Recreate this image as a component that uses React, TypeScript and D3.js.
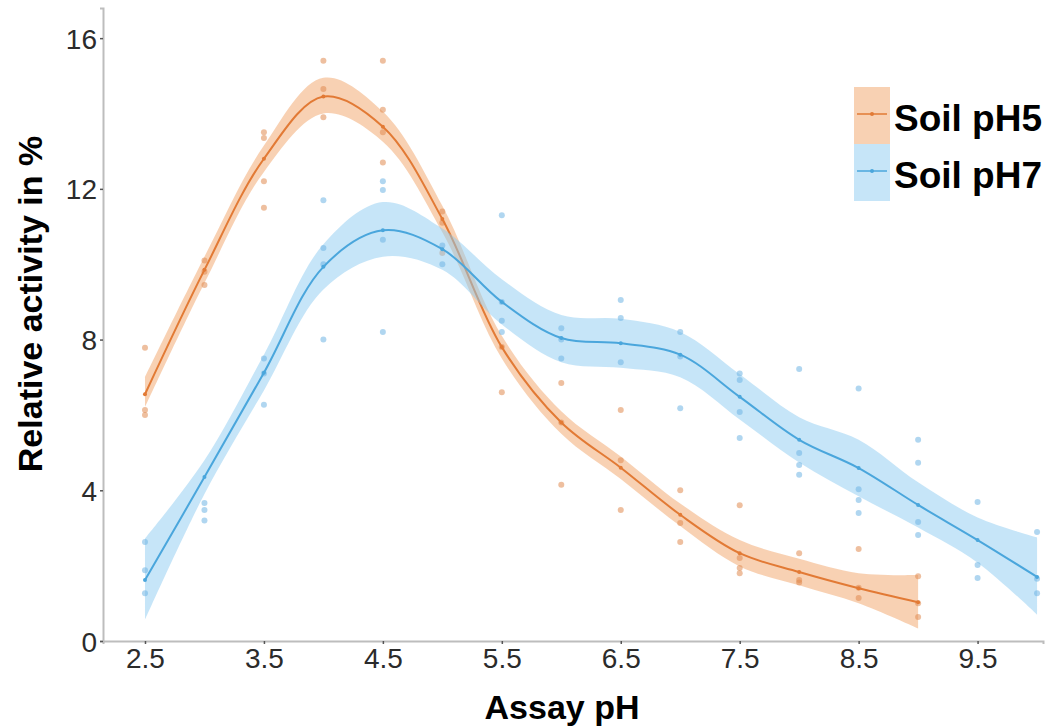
import { useEffect, useRef } from 'react'
import * as d3 from 'd3'

// assay pH levels for each soil
const ph5Levels = [2.5, 3, 3.5, 4, 4.5, 5, 5.5, 6, 6.5, 7, 7.5, 8, 8.5, 9]
const ph7Levels = [2.5, 3, 3.5, 4, 4.5, 5, 5.5, 6, 6.5, 7, 7.5, 8, 8.5, 9, 9.5, 10]

// loess fit + confidence band
const ph5Fit = [6.55, 9.85, 12.8, 14.45, 13.65, 11.2, 7.8, 5.8, 4.6, 3.35, 2.33, 1.83, 1.4, 1.03]
const ph5Lower = [6.2, 9.5, 12.45, 14.0, 13.25, 10.85, 7.5, 5.5, 4.3, 3.05, 1.98, 1.48, 1.0, 0.33]
const ph5Upper = [7.0, 10.2, 13.15, 14.95, 14.05, 11.55, 8.1, 6.1, 4.9, 3.65, 2.68, 2.18, 1.8, 1.75]

const ph7Fit = [1.62, 4.35, 7.12, 9.93, 10.9, 10.4, 9.0, 8.04, 7.9, 7.6, 6.48, 5.34, 4.59, 3.61, 2.68, 1.7]
const ph7Lower = [0.56, 3.9, 6.65, 9.33, 10.2, 9.85, 8.4, 7.4, 7.25, 7.0, 5.88, 4.74, 3.84, 3.01, 2.08, 0.7]
const ph7Upper = [2.72, 4.8, 7.6, 10.53, 11.65, 10.95, 9.6, 8.65, 8.55, 8.2, 7.08, 5.94, 5.34, 4.21, 3.28, 2.75]

// raw replicate measurements at each assay pH
const ph5Obs = [
  [7.78, 6.13, 6.0], [10.1, 9.8, 9.45], [13.5, 13.35, 12.2, 11.5], [15.4, 14.65, 13.9],
  [15.4, 14.1, 13.5, 12.7], [11.4, 11.1, 10.3], [7.8, 6.6], [6.85, 5.8, 4.15],
  [6.13, 4.8, 3.48], [4.0, 3.13, 2.63], [3.6, 2.2, 1.94, 1.8], [2.33, 1.62, 1.55],
  [2.44, 1.41, 1.14], [1.72, 1.0, 0.64],
]
const ph7Obs = [
  [2.63, 1.88, 1.27], [3.66, 3.48, 3.2], [7.5, 7.1, 6.27], [11.7, 10.43, 10.0, 8.0],
  [12.2, 11.97, 10.65, 8.2], [10.5, 10.0], [11.3, 9.0, 8.5, 8.2], [8.3, 8.0, 7.5],
  [9.05, 8.57, 7.4], [8.2, 7.55, 6.18], [7.1, 6.93, 6.08, 5.39], [7.22, 4.99, 4.67, 4.41],
  [6.7, 4.03, 3.74, 3.4], [5.34, 4.73, 3.16, 2.81], [3.69, 2.02, 1.67], [2.89, 1.65, 1.27],
]

const xTicks = [2.5, 3.5, 4.5, 5.5, 6.5, 7.5, 8.5, 9.5]
const yTicks = [0, 4, 8, 12, 16]
const seriesNames = ['Soil pH5', 'Soil pH7']

const W = 1052
const H = 728

export default function App() {
  const svgRef = useRef<SVGSVGElement>(null)

  useEffect(() => {
    const svg = d3.select(svgRef.current)
    svg.selectAll('*').remove()

    const x = d3.scaleLinear().domain([2.147, 10.05]).range([103, 1043])
    const y = d3.scaleLinear().domain([0, 16.8]).range([641, 8])

    const series = [
      { levels: ph5Levels, fit: ph5Fit, lo: ph5Lower, hi: ph5Upper, obs: ph5Obs,
        line: '#e27a35', band: '#f2a468', dot: '#e08a50' },
      { levels: ph7Levels, fit: ph7Fit, lo: ph7Lower, hi: ph7Upper, obs: ph7Obs,
        line: '#4aa6dc', band: '#8ecbf2', dot: '#6fb5e4' },
    ]

    // ── axes ─────────────────────────────────────────────
    const font = 'Liberation Sans, Arial, sans-serif'
    const axisX = svg.append('g').attr('transform', `translate(0,${y(0)})`)
      .call(d3.axisBottom(x).tickValues(xTicks).tickFormat(d3.format('.1f')).tickSize(3).tickPadding(4))
    const axisY = svg.append('g').attr('transform', `translate(${x.range()[0]},0)`)
      .call(d3.axisLeft(y).tickValues(yTicks).tickFormat(d3.format('d')).tickSize(3).tickPadding(3))

    for (const ax of [axisX, axisY]) {
      ax.select('.domain').attr('stroke', '#bdbdbd').attr('stroke-width', 2)
      ax.selectAll('.tick line').attr('stroke', '#555').attr('stroke-width', 1.5)
      ax.selectAll('.tick text')
        .attr('fill', '#2b2b2b')
        .style('font-family', font)
        .style('font-size', '28px')
    }
    axisY.selectAll('.tick text').attr('dy', '0.36em')

    // ── bands, fits, points ──────────────────────────────
    series.forEach(s => {
      const idx = d3.range(s.levels.length)
      const area = d3.area<number>()
        .x(i => x(s.levels[i]))
        .y0(i => y(s.lo[i]))
        .y1(i => y(s.hi[i]))
        .curve(d3.curveCatmullRom.alpha(0.5))
      const line = d3.line<number>()
        .x(i => x(s.levels[i]))
        .y(i => y(s.fit[i]))
        .curve(d3.curveCatmullRom.alpha(0.5))

      const g = svg.append('g')
      g.append('path').attr('d', area(idx)).attr('fill', s.band).attr('fill-opacity', 0.5)

      const pts = idx.flatMap(i => s.obs[i].map(v => [s.levels[i], v]))
      g.selectAll('circle.obs')
        .data(pts)
        .join('circle')
        .attr('class', 'obs')
        .attr('cx', d => x(d[0]))
        .attr('cy', d => y(d[1]))
        .attr('r', 3)
        .attr('fill', s.dot)
        .attr('fill-opacity', 0.55)

      g.append('path').attr('d', line(idx))
        .attr('fill', 'none').attr('stroke', s.line).attr('stroke-width', 2)
      g.selectAll('circle.fit')
        .data(idx)
        .join('circle')
        .attr('class', 'fit')
        .attr('cx', i => x(s.levels[i]))
        .attr('cy', i => y(s.fit[i]))
        .attr('r', 2)
        .attr('fill', s.line)
    })

    // ── legend ───────────────────────────────────────────
    const lg = svg.append('g').attr('transform', 'translate(854,87)')
    seriesNames.forEach((name, i) => {
      const s = series[i]
      const row = lg.append('g').attr('transform', `translate(0,${i * 57})`)
      row.append('rect').attr('width', 36).attr('height', 57)
        .attr('fill', s.band).attr('fill-opacity', 0.5)
      row.append('line').attr('x1', 3).attr('x2', 33).attr('y1', 27).attr('y2', 27)
        .attr('stroke', s.line).attr('stroke-width', 1.5)
      row.append('circle').attr('cx', 18).attr('cy', 27).attr('r', 2).attr('fill', s.line)
      row.append('text').attr('x', 40).attr('y', 44)
        .text(name)
        .attr('fill', '#000')
        .style('font-family', font)
        .style('font-weight', 'bold')
        .style('font-size', '37px')
    })

    // ── axis titles ──────────────────────────────────────
    svg.append('text')
      .attr('x', 562).attr('y', 719)
      .attr('text-anchor', 'middle')
      .text('Assay pH')
      .style('font-family', font).style('font-weight', 'bold').style('font-size', '34px')
    svg.append('text')
      .attr('transform', 'translate(42,304) rotate(-90)')
      .attr('text-anchor', 'middle')
      .text('Relative activity in %')
      .style('font-family', font).style('font-weight', 'bold').style('font-size', '34px')
  }, [])

  return (
    <svg ref={svgRef} width={W} height={H}
      style={{ position: 'absolute', left: 0, top: 0, background: '#fff' }} />
  )
}
